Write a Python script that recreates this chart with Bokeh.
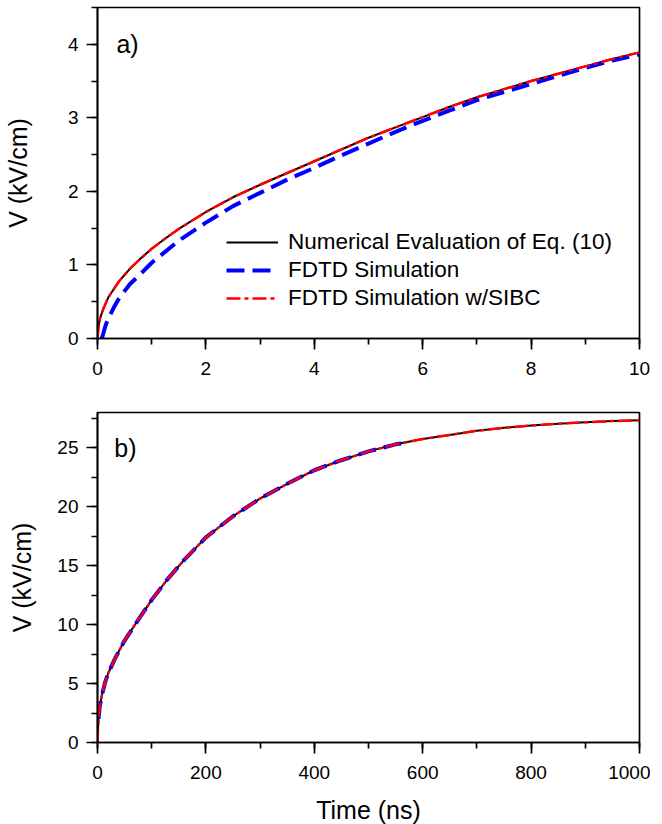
from bokeh.plotting import figure
from bokeh.layouts import column
from bokeh.models import Legend, LegendItem, Label, SingleIntervalTicker, Range1d
from bokeh.embed import file_html
from bokeh.resources import INLINE

FONT = "Liberation Sans"

# ---------------- panel a) data ----------------
t_a = [0, 0.02, 0.05, 0.1, 0.2, 0.4, 0.6, 0.8, 1.0, 1.25, 1.5, 2.0, 2.5, 3.0, 3.5,
       4.0, 4.5, 5.0, 5.5, 6.0, 6.5, 7.0, 7.5, 8.0, 8.5, 9.0, 9.5, 10.0]
v_a_num = [0, 0.17, 0.28, 0.39, 0.56, 0.78, 0.95, 1.09, 1.22, 1.36, 1.49, 1.72, 1.92, 2.09, 2.25,
           2.41, 2.57, 2.73, 2.87, 3.01, 3.15, 3.28, 3.39, 3.50, 3.60, 3.70, 3.80, 3.89]
v_a_sibc = [0, 0.17, 0.28, 0.39, 0.56, 0.78, 0.95, 1.09, 1.22, 1.36, 1.49, 1.72, 1.92, 2.09, 2.25,
            2.41, 2.57, 2.73, 2.87, 3.01, 3.15, 3.28, 3.39, 3.50, 3.60, 3.70, 3.80, 3.89]
t_a_fdtd = [0.08, 0.15, 0.2, 0.3, 0.4, 0.6, 0.8, 1.0, 1.5, 2.0, 2.5, 3.0, 3.5, 4.0, 4.5,
            5.0, 5.5, 6.0, 6.5, 7.0, 7.5, 8.0, 8.5, 9.0, 9.5, 10.0]
v_a_fdtd = [0.0, 0.18, 0.27, 0.42, 0.55, 0.74, 0.88, 1.03, 1.33, 1.575, 1.80, 1.98, 2.16, 2.32, 2.49,
            2.65, 2.81, 2.96, 3.10, 3.24, 3.35, 3.46, 3.57, 3.68, 3.78, 3.86]

# ---------------- panel b) data ----------------
t_b = [0, 1, 2, 4, 8, 14, 20, 32, 50, 70, 100, 130, 160, 200, 250, 300, 350, 400, 450,
       500, 550, 600, 650, 700, 750, 800, 850, 900, 950, 1000]
v_b_num = [0, 1.2, 2.0, 3.0, 4.0, 5.1, 5.9, 7.1, 8.65, 10.05, 12.1, 13.9, 15.5, 17.4, 19.2,
           20.7, 21.95, 23.1, 23.95, 24.7, 25.3, 25.75, 26.1, 26.45, 26.7, 26.9, 27.05, 27.17,
           27.27, 27.35]
v_b_sibc = [0, 1.2, 2.0, 3.0, 4.0, 5.1, 5.9, 7.1, 8.65, 10.05, 12.1, 13.9, 15.5, 17.4, 19.2,
            20.7, 21.95, 23.1, 23.95, 24.7, 25.3, 25.75, 26.1, 26.45, 26.7, 26.9, 27.05, 27.17,
            27.27, 27.35]
t_b_fdtd = [2, 4, 8, 14, 20, 32, 50, 70, 100, 130, 160, 200, 250, 300, 350, 400, 450, 500, 550, 570]
v_b_fdtd = [2.0, 3.0, 4.0, 5.1, 5.9, 7.1, 8.65, 10.05, 12.1, 13.9, 15.5, 17.4, 19.2, 20.7,
            21.95, 23.1, 23.95, 24.7, 25.3, 25.45]

legend_labels = ["Numerical Evaluation of Eq. (10)", "FDTD Simulation", "FDTD Simulation w/SIBC"]
y_label = "V (kV/cm)"
x_label = "Time (ns)"


def style(p, xint, yint, ylab_standoff):
    p.grid.visible = False
    p.outline_line_color = "black"
    p.outline_line_width = 1.7
    p.background_fill_color = "white"
    p.border_fill_color = "white"
    for ax in (p.xaxis[0], p.yaxis[0]):
        ax.axis_line_width = 1.7
        ax.axis_line_color = "black"
        ax.major_tick_line_width = 1.7
        ax.minor_tick_line_width = 1.7
        ax.major_tick_line_color = "black"
        ax.minor_tick_line_color = "black"
        ax.major_tick_in = 0
        ax.minor_tick_in = 0
        ax.major_tick_out = 11
        ax.minor_tick_out = 6
        ax.major_label_text_font = FONT
        ax.major_label_text_font_size = "19px"
        ax.major_label_text_color = "black"
        ax.axis_label_text_font = FONT
        ax.axis_label_text_font_size = "25px"
        ax.axis_label_text_font_style = "normal"
        ax.axis_label_text_color = "black"
    p.xaxis[0].ticker = SingleIntervalTicker(interval=xint, num_minor_ticks=2)
    p.yaxis[0].ticker = SingleIntervalTicker(interval=yint, num_minor_ticks=2)
    p.xaxis[0].major_label_standoff = 12
    p.yaxis[0].major_label_standoff = 8
    p.yaxis[0].axis_label = y_label
    p.yaxis[0].axis_label_standoff = ylab_standoff


# ---------------- panel a ----------------
p1 = figure(frame_width=542, frame_height=331, x_range=Range1d(0, 10), y_range=Range1d(0, 4.5),
            min_border_left=88, min_border_right=16, min_border_top=7, min_border_bottom=46,
            output_backend="svg", toolbar_location=None)
style(p1, 2, 1, 33)
r1 = p1.line(t_a, v_a_num, line_color="black", line_width=2)
r2 = p1.line(t_a_fdtd, v_a_fdtd, line_color="#0000ff", line_width=4, line_dash="18 8")
r3 = p1.line(t_a, v_a_sibc, line_color="#ff0000", line_width=2.5, line_dash="14 4 4 4")
legend = Legend(items=[LegendItem(label=legend_labels[0], renderers=[r1]),
                       LegendItem(label=legend_labels[1], renderers=[r2]),
                       LegendItem(label=legend_labels[2], renderers=[r3])],
                location=(129, 26), border_line_alpha=0, background_fill_alpha=0,
                padding=0, margin=0, spacing=0, glyph_width=52, glyph_height=28,
                label_height=28, label_standoff=10, label_text_font=FONT,
                label_text_font_size="22.5px", label_text_color="black")
p1.add_layout(legend)
p1.add_layout(Label(x=0.35, y=4.0, text="a)", text_baseline="middle", text_font=FONT,
                    text_font_size="25px", text_color="black"))

# ---------------- panel b ----------------
p2 = figure(frame_width=542, frame_height=330, x_range=Range1d(0, 1000), y_range=Range1d(0, 28),
            min_border_left=88, min_border_right=16, min_border_top=28, min_border_bottom=80,
            output_backend="svg", toolbar_location=None)
style(p2, 200, 5, 18)
p2.xaxis[0].axis_label = x_label
p2.xaxis[0].axis_label_standoff = 14
p2.line(t_b, v_b_num, line_color="black", line_width=2)
p2.line(t_b_fdtd, v_b_fdtd, line_color="#0000ff", line_width=4, line_dash="18 8")
p2.line(t_b, v_b_sibc, line_color="#ff0000", line_width=2.5, line_dash="14 4 4 4")
p2.add_layout(Label(x=31, y=25, text="b)", text_baseline="middle", text_font=FONT,
                    text_font_size="25px", text_color="black"))

layout = column(p1, p2, spacing=0)
open("out.html", "w").write(file_html(layout, INLINE))
